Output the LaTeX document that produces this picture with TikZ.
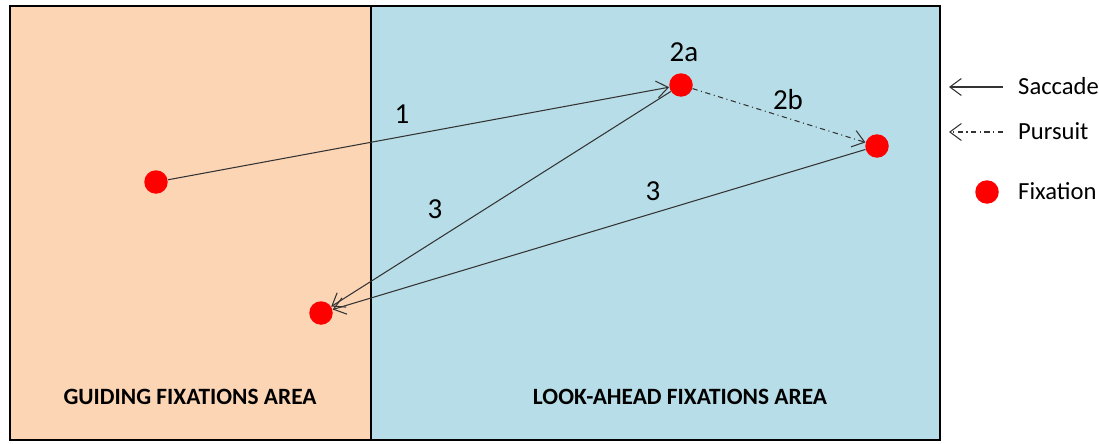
\documentclass[tikz,border=0pt]{standalone}
\usepackage{fontspec}
\setmainfont{Carlito}
\usepackage{tikz}
\usetikzlibrary{positioning, arrows.meta, calc}
\definecolor{guidepeach}{RGB}{252, 213, 181}
\definecolor{lookblue}{RGB}{183, 222, 232}
\definecolor{fixred}{RGB}{255, 0, 0}

\begin{document}
\begin{tikzpicture}[x=0.02cm, y=-0.02cm,
    every node/.style={align=center, font=\fontsize{14}{16}\selectfont},
    fixation/.style={circle, fill=fixred, inner sep=0pt, minimum size=0.47cm},
    saccade/.style={draw=black!80, line width=0.6pt, -{Straight Barb[length=2.3mm, width=3.4mm]}},
    pursuit/.style={saccade, dash dot},
    numlabel/.style={font=\fontsize{16.5}{18}\selectfont},
    arealabel/.style={font=\bfseries\fontsize{13.3}{15}\selectfont}]
    \useasboundingbox (0,0) rectangle (1099,443);
    \fill[guidepeach] (10,6)  rectangle (371,440);
    \fill[lookblue]   (371,6) rectangle (940,440);
    \draw[line width=1.2pt] (10,6) rectangle (940,440);
    \draw[line width=1.2pt] (371,6) -- (371,440);

    \node[fixation] (start) at (156,182) {};
    \node[fixation] (back)  at (321,313) {};
    \node[fixation] (fa)    at (681,85)  {};
    \node[fixation] (fb)    at (877,146) {};

    \draw[saccade] (start) -- (fa);
    \draw[pursuit] (fa) -- (fb);
    \draw[saccade] (fa) -- (back);
    \draw[saccade] (fb) -- (back);

    \node[numlabel] (l1)  at (402,114) {1};
    \node[numlabel] (l2a) at (684,52)  {2a};
    \node[numlabel] (l2b) at (788,100) {2b};
    \node[numlabel] (l3a) at (435,209) {3};
    \node[numlabel] (l3b) at (653,191) {3};

    \node[arealabel] (guide) at (190,397) {GUIDING FIXATIONS AREA};
    \node[arealabel] (look)  at (680,397) {LOOK-AHEAD FIXATIONS AREA};

    % legend
    \coordinate (sacfrom) at (1003,87);
    \coordinate (sacto)   at (949,87);
    \coordinate (purfrom) at (1003,132);
    \coordinate (purto)   at (949,132);
    \draw[saccade] (sacfrom) -- (sacto);
    \draw[pursuit] (purfrom) -- (purto);
    \node[anchor=west] (sactext) at (1012,86)  {Saccade};
    \node[anchor=west] (purtext) at (1012,131) {Pursuit};
    \node[fixation] (legdot) at (987,192) {};
    \node[anchor=west] (fixtext) at (1012,191) {Fixation};
\end{tikzpicture}
\end{document}
